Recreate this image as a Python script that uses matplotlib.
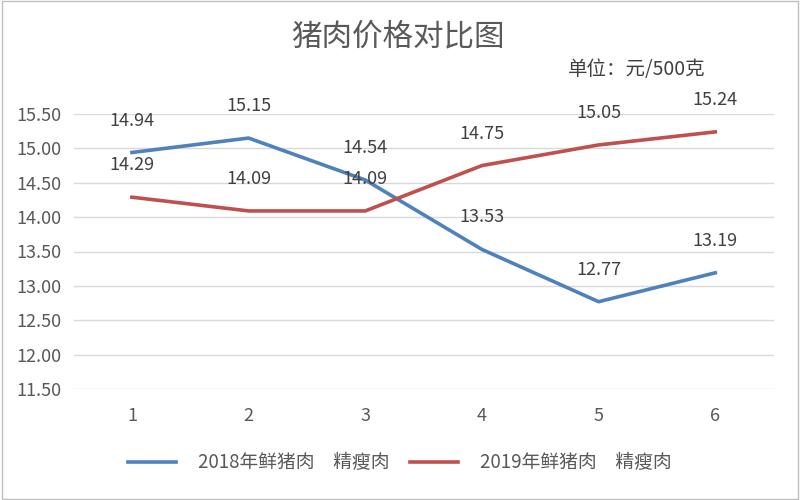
import matplotlib.pyplot as plt
import matplotlib.patches as patches

plt.rcParams['font.family'] = ['Noto Sans CJK SC', 'DejaVu Sans']

x_labels = ['1', '2', '3', '4', '5', '6']
pork_2018 = [14.94, 15.15, 14.54, 13.53, 12.77, 13.19]
pork_2019 = [14.29, 14.09, 14.09, 14.75, 15.05, 15.24]
series_names = ['2018年鲜猪肉　精瘦肉', '2019年鲜猪肉　精瘦肉']
y_ticks = [11.5, 12.0, 12.5, 13.0, 13.5, 14.0, 14.5, 15.0, 15.5]

blue = '#4f81bd'
red = '#c0504d'
grey = '#595959'

fig = plt.figure(figsize=(8, 5), dpi=100)
ax = fig.add_axes([0.092, 0.222, 0.875, 0.55])

xs = list(range(len(x_labels)))
ax.plot(xs, pork_2018, color=blue, lw=2.6, label=series_names[0])
ax.plot(xs, pork_2019, color=red, lw=2.6, label=series_names[1])

for vals in [pork_2018, pork_2019]:
    for i, v in zip(xs, vals):
        ax.annotate('%.2f' % v, (i, v), xytext=(0, 23), textcoords='offset points',
                    ha='center', va='center', fontsize=13, color='#404040')

ax.set_xlim(-0.5, len(xs) - 0.5)
ax.set_ylim(11.5, 15.5)
ax.set_yticks(y_ticks)
ax.set_yticklabels(['%.2f' % t for t in y_ticks])
ax.set_xticks(xs)
ax.set_xticklabels(x_labels)
ax.tick_params(axis='both', length=0, colors=grey, labelsize=13)
ax.tick_params(axis='x', pad=13)
ax.tick_params(axis='y', pad=9)
ax.grid(axis='y', color='#d9d9d9', lw=1)
ax.set_axisbelow(True)
for s in ax.spines.values():
    s.set_visible(False)

fig.text(0.497, 0.926, '猪肉价格对比图', ha='center', va='center', fontsize=22, color=grey)
fig.text(0.71, 0.86, '单位：元/500克', ha='left', va='center', fontsize=14, color='#404040')

fig.legend(loc='center', bbox_to_anchor=(0.5, 0.074), ncol=2, frameon=False,
           fontsize=13.5, handlelength=2.56, handletextpad=1.17, columnspacing=1.07,
           labelcolor=grey)

fig.patches.append(patches.Rectangle((0.002, 0.002), 0.996, 0.996, transform=fig.transFigure,
                                     fill=False, edgecolor='#bfbfbf', lw=1))

plt.savefig('out.png')
